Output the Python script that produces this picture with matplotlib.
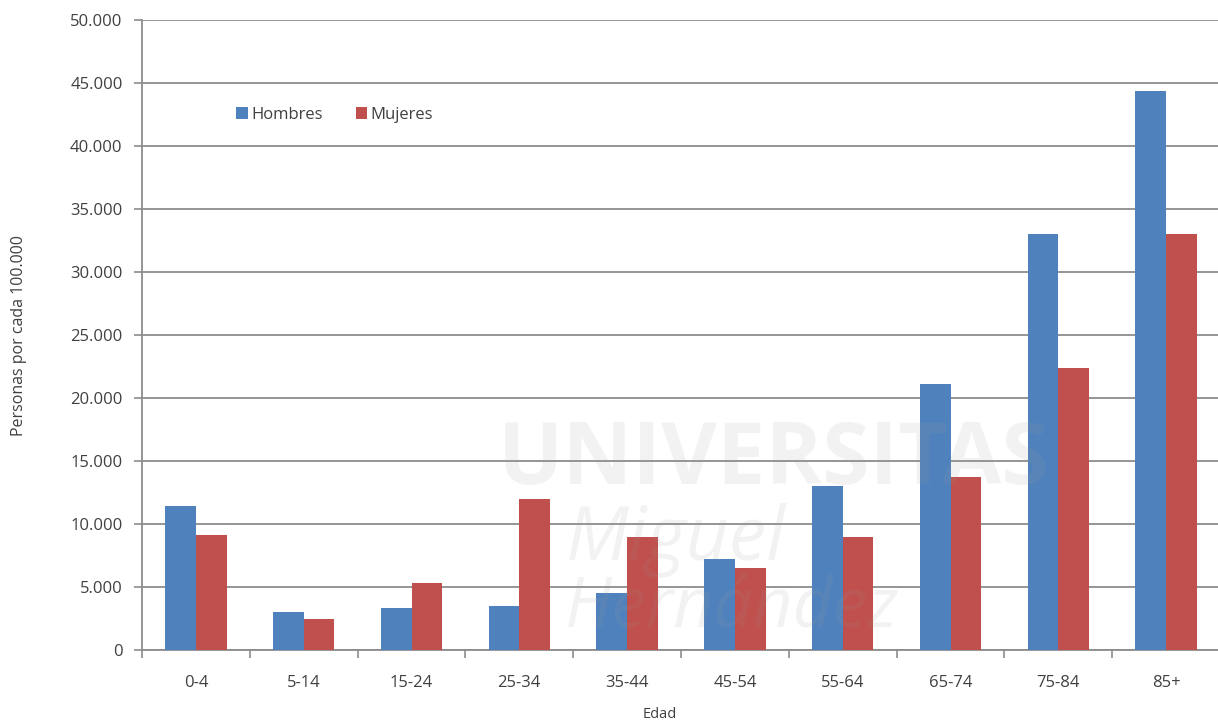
import matplotlib
matplotlib.use("Agg")
import matplotlib.pyplot as plt
import numpy as np
from matplotlib.ticker import FuncFormatter, MultipleLocator

plt.rcParams['font.family'] = ['Open Sans', 'DejaVu Sans']

categorias = ["0-4", "5-14", "15-24", "25-34", "35-44", "45-54", "55-64", "65-74", "75-84", "85+"]
hombres = [11400, 3050, 3300, 3500, 4550, 7250, 13000, 21100, 33000, 44350]
mujeres = [9100, 2450, 5300, 12000, 9000, 6500, 9000, 13750, 22400, 33050]

azul = "#4F81BD"
rojo = "#C0504D"
gris_texto = "#404040"

fig = plt.figure(figsize=(12.18, 7.26), dpi=100)
ax = fig.add_axes([142 / 1218, 1 - 650 / 726, 1078 / 1218, 630 / 726])

x = np.arange(len(categorias))
w = 0.284
ax.bar(x - w / 2, hombres, w, color=azul, label="Hombres", zorder=3)
ax.bar(x + w / 2, mujeres, w, color=rojo, label="Mujeres", zorder=3)

ax.set_xlim(-0.5, len(categorias) - 0.5)
ax.set_ylim(0, 50000)
ax.yaxis.set_major_locator(MultipleLocator(5000))
ax.yaxis.set_major_formatter(FuncFormatter(lambda v, p: f"{int(v):,}".replace(",", ".")))
ax.grid(axis="y", color="#8c8c8c", linewidth=1.3, zorder=0)

ax.set_xticks(x)
ax.set_xticklabels(categorias)
ax.set_xticks(np.arange(len(categorias) + 1) - 0.5, minor=True)
ax.tick_params(axis="x", which="major", length=0, pad=18, labelsize=12, labelcolor=gris_texto)
ax.tick_params(axis="x", which="minor", length=6, color="#8c8c8c", width=1.2)
ax.tick_params(axis="y", length=6, color="#8c8c8c", width=1.2, labelsize=12,
               labelcolor=gris_texto, pad=8)

for s in ["top", "right"]:
    ax.spines[s].set_visible(False)
for s in ["left", "bottom"]:
    ax.spines[s].set_color("#8c8c8c")
    ax.spines[s].set_linewidth(1.3)

ax.set_ylabel("Personas por cada 100.000", fontsize=11.5, color=gris_texto, labelpad=31)
fig.text(660 / 1218, 1 - 714 / 726, "Edad", fontsize=10.5, color=gris_texto,
         ha="center", va="center")

leg = ax.legend(loc="upper left", bbox_to_anchor=(0.081, 0.873), ncol=2, frameon=False,
                fontsize=12, handlelength=0.7, handleheight=0.7, handletextpad=0.2,
                columnspacing=2.0, borderaxespad=0)
for t in leg.get_texts():
    t.set_color(gris_texto)

# marca de agua institucional
fig.text(0.635, 0.365, "UNIVERSITAS", fontsize=62, fontweight="bold", color="#9a9a9a",
         alpha=0.12, ha="center", va="center", zorder=10)
fig.text(0.555, 0.255, "Miguel", fontsize=54, style="italic", color="#9a9a9a",
         alpha=0.12, ha="center", va="center", zorder=10)
fig.text(0.6, 0.16, "Hernández", fontsize=50, style="italic", color="#9a9a9a",
         alpha=0.12, ha="center", va="center", zorder=10)

fig.savefig("out.png", dpi=100)
